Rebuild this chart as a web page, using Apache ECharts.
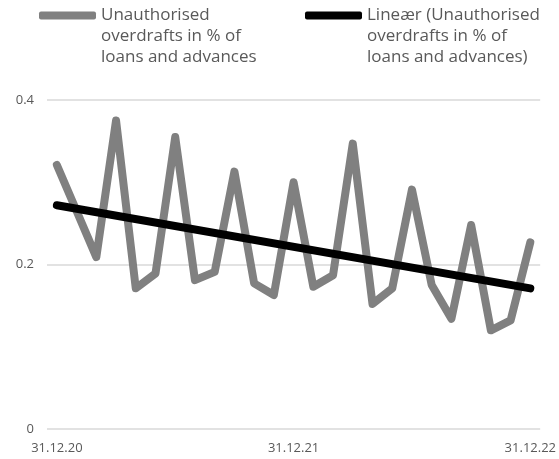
<!DOCTYPE html>
<html><head><meta charset="utf-8">
<script src="https://cdn.jsdelivr.net/npm/echarts@6/dist/echarts.min.js"></script>
<style>html,body{margin:0;padding:0;background:#fff}#c{width:559px;height:459px}</style>
</head><body><div id="c"></div>
<script>
const categories = ["31.12.20","31.01.21","28.02.21","31.03.21","30.04.21","31.05.21","30.06.21","31.07.21","31.08.21","30.09.21","31.10.21","30.11.21","31.12.21","31.01.22","28.02.22","31.03.22","30.04.22","31.05.22","30.06.22","31.07.22","31.08.22","30.09.22","31.10.22","30.11.22","31.12.22"];
const overdrafts = [0.321,0.265,0.209,0.375,0.171,0.189,0.355,0.181,0.191,0.313,0.177,0.163,0.300,0.173,0.187,0.347,0.152,0.171,0.291,0.175,0.134,0.248,0.120,0.132,0.227];
const trendStart = 0.272;
const trendEnd = 0.171;
const yTicks = [0, 0.2, 0.4];
const name1 = "Unauthorised\noverdrafts in % of\nloans and advances";
const name2 = "Lineær (Unauthorised\noverdrafts in % of\nloans and advances)";

const trend = categories.map((c,i)=> i===0 ? trendStart : (i===categories.length-1 ? trendEnd : null));
const font = "Open Sans";
const legendText = {fontFamily: font, fontSize: 17, color: '#595959', lineHeight: 21};
const fmt = n => '\n\n' + n;
const chart = echarts.init(document.getElementById('c'));
chart.setOption({
  animation: false,
  legend: [
    {left: 34, top: -42, itemWidth: 57, itemHeight: 8, itemGap: 0, icon: 'roundRect', data: [name1], formatter: fmt, textStyle: legendText, itemStyle:{color:'#808080'}},
    {left: 300, top: -42, itemWidth: 57, itemHeight: 8, itemGap: 0, icon: 'roundRect', data: [name2], formatter: fmt, textStyle: legendText, itemStyle:{color:'#000000'}}
  ],
  grid: {left: 47, right: 17, top: 100, bottom: 30},
  xAxis: {
    type: 'category', data: categories, boundaryGap: true,
    axisLine: {show: false}, axisTick: {show: false},
    axisLabel: {interval: 11, fontFamily: font, fontSize: 13, color: '#595959', margin: 13}
  },
  yAxis: {
    type: 'value', min: yTicks[0], max: yTicks[yTicks.length-1], interval: 0.2,
    axisLine: {show: false}, axisTick: {show: false},
    axisLabel: {fontFamily: font, fontSize: 13, color: '#595959', margin: 13},
    splitLine: {lineStyle: {color: '#d9d9d9', width: 1.5}}
  },
  series: [
    {name: name1, type: 'line', data: overdrafts, symbol: 'none', lineStyle: {color: '#808080', width: 8, cap: 'round', join: 'round'}, itemStyle:{color:'#808080'}},
    {name: name2, type: 'line', data: trend, connectNulls: true, symbol: 'none', lineStyle: {color: '#000000', width: 8, cap: 'round', join: 'round'}, itemStyle:{color:'#000'}, z: 3}
  ]
});
</script></body></html>
